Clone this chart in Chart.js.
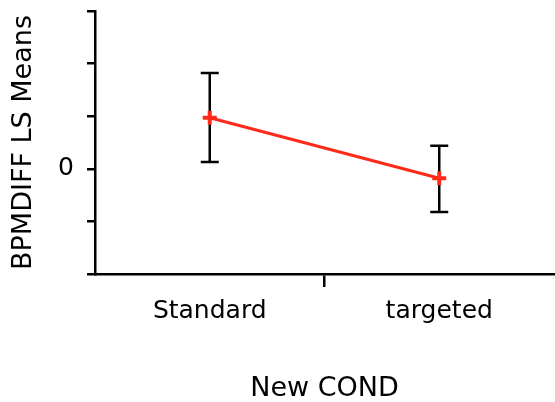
<!DOCTYPE html>
<html>
<head>
<meta charset="utf-8">
<script src="https://cdn.jsdelivr.net/npm/chart.js@4/dist/chart.umd.min.js"></script>
<style>
  html, body { margin:0; padding:0; background:#fff; overflow:hidden; }
  #wrap { width:565px; height:402px; }
</style>
</head>
<body>
<div id="wrap"><canvas id="c"></canvas></div>
<script>
/* ---------- data ---------- */
const CATS   = ['Standard', 'targeted'];
const MEANS  = [0.97, -0.18];
const UPPER  = [1.82, 0.44];
const LOWER  = [0.13, -0.82];
const Y_MIN = -2, Y_MAX = 3, Y_STEP = 1;
const Y_LABELED = [0];

/* ---------- error bars ---------- */
const errorBars = {
  id: 'errorBars',
  beforeDatasetsDraw(chart){
    const {ctx, scales:{x, y}} = chart;
    ctx.save();
    ctx.strokeStyle = '#000';
    ctx.lineWidth = 2.5;
    CATS.forEach((c, i)=>{
      const px = x.getPixelForValue(i);
      const top = y.getPixelForValue(UPPER[i]);
      const bot = y.getPixelForValue(LOWER[i]);
      ctx.beginPath();
      ctx.moveTo(px, top); ctx.lineTo(px, bot);
      ctx.moveTo(px-9, top); ctx.lineTo(px+9, top);
      ctx.moveTo(px-9, bot); ctx.lineTo(px+9, bot);
      ctx.stroke();
    });
    ctx.restore();
  }
};

const FONT = 'DejaVu Sans';

new Chart(document.getElementById('c'), {
  type: 'line',
  data: {
    labels: CATS,
    datasets: [{
      data: MEANS,
      borderColor: '#ff2a1a',
      borderWidth: 3,
      pointStyle: 'cross',
      pointRadius: 7,
      pointBorderWidth: 4,
      pointBorderColor: '#ff2a1a',
      pointBackgroundColor: '#ff2a1a',
      tension: 0
    }]
  },
  options: {
    responsive: true,
    maintainAspectRatio: false,
    animation: false,
    events: [],
    layout: { padding: { top: 11, right: 6, left: 0, bottom: 0 } },
    plugins: { legend: { display: false }, tooltip: { enabled: false } },
    scales: {
      x: {
        offset: true,
        grid: {
          offset: true,
          drawOnChartArea: false,
          tickLength: 13,
          lineWidth: 2.5,
          color: ctx => ctx.index === 1 ? '#000' : 'rgba(0,0,0,0)'
        },
        border: { color: '#000', width: 2.5 },
        ticks: { color: '#000', padding: 9, font: { family: FONT, size: 25 } },
        title: {
          display: true, text: 'New COND', color: '#000',
          font: { family: FONT, size: 27, lineHeight: 1 },
          padding: { top: 0, bottom: 0 }
        },
        afterFit: s => { s.height = 402 - 274; s.paddingLeft = 0; s.paddingRight = 0; }
      },
      y: {
        min: Y_MIN, max: Y_MAX,
        grid: { drawOnChartArea: false, tickLength: 8, lineWidth: 2.5, color: '#000' },
        border: { color: '#000', width: 2.5 },
        ticks: {
          stepSize: Y_STEP, color: '#000', padding: 13,
          font: { family: FONT, size: 25 },
          callback: v => Y_LABELED.includes(v) ? String(v) : ''
        },
        title: {
          display: true, text: 'BPMDIFF LS Means', color: '#000',
          font: { family: FONT, size: 27, lineHeight: 1 },
          padding: { top: 10, bottom: 0 }
        },
        afterFit: s => { s.width = 95; s.paddingTop = 0; s.paddingBottom = 0; }
      }
    }
  },
  plugins: [errorBars]
});
</script>
</body>
</html>
